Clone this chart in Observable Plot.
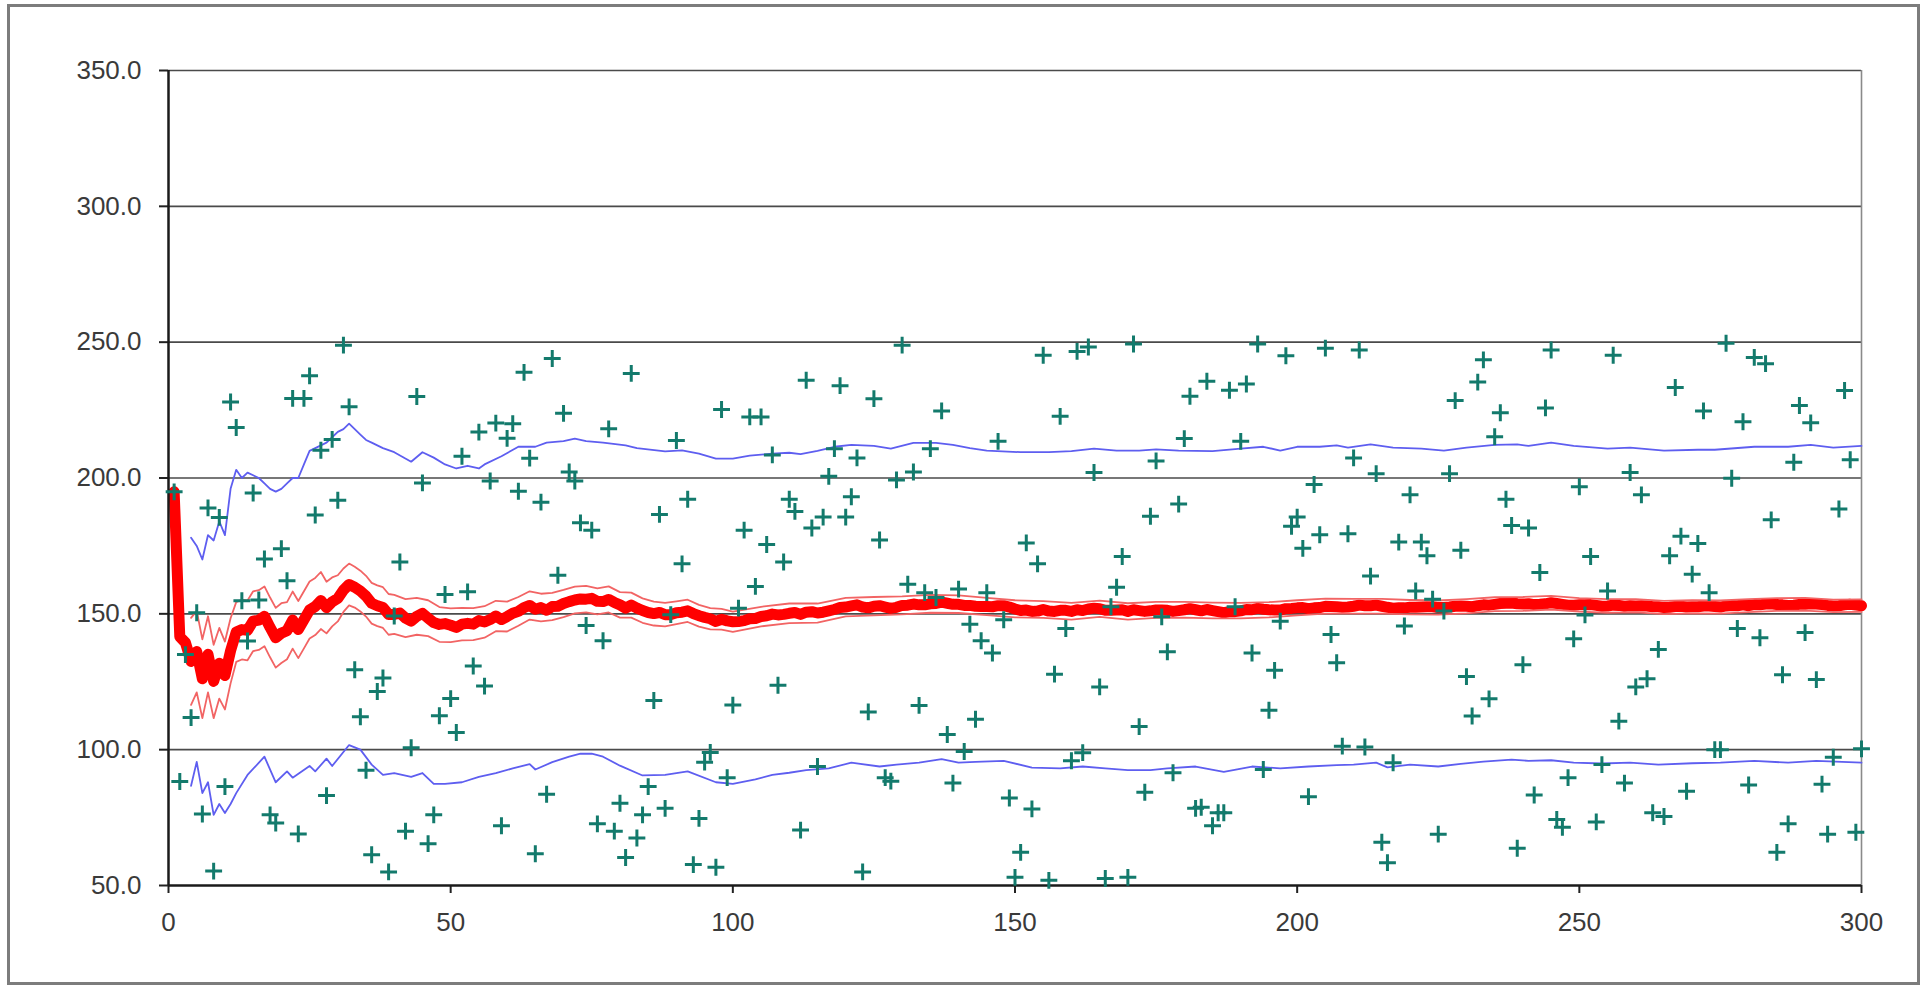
<!DOCTYPE html>
<html>
<head>
<meta charset="utf-8">
<script src="https://cdn.jsdelivr.net/npm/d3@7"></script>
<script src="https://cdn.jsdelivr.net/npm/@observablehq/plot@0.6"></script>
<style>
  html, body { margin: 0; padding: 0; background: #ffffff; overflow: hidden; }
  #wrap { position: relative; width: 1923px; height: 986px; }
  #border { position: absolute; left: 7px; top: 4px; width: 1913px; height: 981px; box-sizing: border-box; border: 3px solid #7c7c7c; pointer-events: none; }
  #chart { position: absolute; left: 0; top: 0; }
</style>
</head>
<body>
<div id="wrap"><div id="chart"></div><div id="border"></div></div>
<script>
// ---------- data ----------
const xTicks = [0, 50, 100, 150, 200, 250, 300];
const yTicks = [50, 100, 150, 200, 250, 300, 350];

// scatter values, one per trial 1..300
const sampleValues = [194.9,88.3,135,111.8,150.4,76.3,189,55.3,185.5,86.4,
228,218.6,154.8,140,194.5,155.1,170.2,76,73,174,
162.2,229.3,69,229.3,237.6,186.4,210.2,83.1,214.2,191.8,
248.9,226.2,129.4,112.1,92.4,61.3,121.4,126.4,55,149.2,
169.1,70,100.7,230,198.2,65.4,76,112.5,157.1,118.8,
106.3,208,158.1,130.8,216.9,123.4,198.9,220.2,72,214.6,
220,195.1,238.9,207.3,61.7,191.1,83.6,244,164.2,223.8,
202.2,198.9,183.5,145.7,180.8,72.7,140.1,218.1,70,80.3,
60.3,238.5,67.5,76,86.4,118.1,186.6,78.4,149.7,213.8,
168.4,192.2,57.7,74.7,95.4,99,56.7,225.2,89.7,116.4,
152.1,180.8,222.5,160.1,222.5,175.5,208.5,123.7,169.1,192.2,
187.7,70.4,236,181.6,93.8,185.6,200.6,210.8,234,185.6,
193.1,207.4,55,113.9,229.2,177.2,89.7,88.4,199.3,248.9,
160.9,202.2,116.3,157.8,210.8,156,224.7,105.6,87.7,159.1,
99.3,146.2,111.2,140.1,157.8,135.6,213.5,147.8,82.2,53,
62.2,176.1,78.2,168.4,245.2,51.9,127.8,222.7,144.6,95.9,
246.6,98.9,248.2,202,123.1,52.6,152.6,159.8,171.1,53,
249.3,108.5,84.3,185.9,206.3,148.9,136,91.5,190.4,214.5,
230.1,78.4,78.8,235.6,72,76.8,76.8,232.3,152.6,213.5,
234.6,135.6,249.3,92.7,114.5,129.2,147.3,245,182.2,185.6,
174.1,82.7,197.6,179.1,247.8,142.4,132,101.3,179.5,207.4,
247.1,101,163.9,201.6,65.9,58.4,95.2,176.4,145.5,193.8,
158.4,176.4,171.4,155.4,68.9,151,201.6,228.5,173.4,126.9,
112.4,235.3,243.5,118.7,215.2,224,192.2,182.5,63.7,131.3,
181.6,83.3,165.2,225.8,247.1,74.3,71.4,89.7,140.8,196.8,
149.6,171.1,73.4,94.5,158.4,245.2,110.5,87.7,202,123.1,
193.8,126.1,76.8,136.9,75.4,171.4,233.3,178.6,84.7,164.6,
175.9,224.7,157.8,100,100,249.6,199.9,144.6,220.7,87,
244.4,141.2,242.1,184.6,62.2,127.6,72.7,205.8,226.7,143.1,
220.3,125.8,87.3,68.9,97.2,188.6,232.2,206.7,69.6,100.3];

// thick red line (running level), one per trial 1..300
const meanValues = [194.9,141.6,139.4,132.5,136.1,126.1,135.1,125.1,131.8,127.3,
136.4,143.3,144.2,143.9,147.3,147.7,149.1,145.0,141.2,142.9,
143.8,147.7,144.2,147.8,151.4,152.7,154.9,152.3,154.4,155.7,
158.7,160.8,159.8,158.4,156.5,153.9,153.0,152.3,149.8,149.8,
150.3,148.4,147.3,149.1,150.2,148.4,146.8,146.1,146.4,145.8,
145.0,146.2,146.5,146.2,147.5,147.0,147.9,149.2,147.9,149.0,
150.2,150.9,152.3,153.1,151.7,152.3,151.3,152.7,152.8,153.8,
154.5,155.1,155.5,155.4,155.7,154.6,154.5,155.3,154.2,153.3,
152.1,153.2,152.1,151.2,150.5,150.1,150.5,149.7,149.7,150.4,
150.6,151.1,150.1,149.3,148.7,148.2,147.2,148.0,147.4,147.1,
147.2,147.5,148.2,148.3,149.0,149.3,149.9,149.6,149.8,150.2,
150.5,149.8,150.6,150.8,150.3,150.6,151.1,151.6,152.3,152.5,
152.9,153.3,152.5,152.2,152.8,153.0,152.5,152.0,152.4,153.1,
153.2,153.6,153.3,153.3,153.7,153.8,154.3,153.9,153.5,153.5,
153.1,153.1,152.8,152.7,152.7,152.6,153.0,153.0,152.5,151.8,
151.2,151.4,150.9,151.0,151.6,151.0,150.9,151.3,151.3,150.9,
151.5,151.2,151.8,152.1,151.9,151.3,151.3,151.4,151.5,150.9,
151.5,151.2,150.9,151.1,151.4,151.4,151.3,150.9,151.2,151.5,
151.9,151.5,151.1,151.6,151.2,150.8,150.4,150.8,150.8,151.1,
151.6,151.5,152.0,151.7,151.5,151.4,151.4,151.9,152.0,152.2,
152.3,151.9,152.2,152.3,152.8,152.7,152.6,152.4,152.5,152.8,
153.2,153.0,153.0,153.2,152.8,152.4,152.1,152.2,152.2,152.4,
152.4,152.5,152.6,152.6,152.3,152.3,152.5,152.8,152.9,152.8,
152.6,153.0,153.3,153.2,153.5,153.8,153.9,154.0,153.7,153.6,
153.7,153.4,153.5,153.7,154.1,153.8,153.5,153.2,153.2,153.3,
153.3,153.4,153.1,152.8,152.9,153.2,153.1,152.8,153.0,152.9,
153.0,152.9,152.6,152.6,152.3,152.4,152.7,152.8,152.5,152.6,
152.6,152.9,152.9,152.7,152.5,152.9,153.1,153.0,153.3,153.0,
153.4,153.3,153.6,153.7,153.4,153.3,153.1,153.2,153.5,153.5,
153.7,153.6,153.4,153.1,152.9,153.0,153.3,153.5,153.2,153.0];

// thin red band (read at these trials)
const bandX = [4,5,6,7,8,9,10,11,12,13,14,15,16,17,18,19,20,21,22,23,24,25,26,27,28,29,30,
31,32,33,34,35,36,37,38,39,40,42,44,46,48,50,52,54,56,58,60,62,64,66,68,70,72,74,76,78,80,
82,84,86,88,90,92,94,96,98,100,105,110,115,120,125,130,135,140,145,150,155,160,165,170,175,
180,185,190,195,200,205,210,215,220,225,230,235,240,245,250,255,260,265,270,275,280,285,290,295,300];
const bandUpper = [148.5,151.1,140.6,149.1,138.6,144.8,139.8,148.4,154.3,155.2,154.9,158.3,158.7,160.1,156.0,152.2,153.9,154.3,158.2,154.7,158.3,161.9,163.2,165.4,161.8,163.4,164.2,
166.7,168.5,167.3,165.9,164.0,161.4,160.5,159.8,157.3,157.0,155.4,155.9,155.0,152.5,152.0,152.2,152.1,152.8,154.8,154.5,156.2,158.3,157.4,157.7,158.8,160.0,160.3,159.4,160.1,158.0,
157.8,155.7,154.5,154.0,154.6,155.2,153.3,152.1,151.8,150.8,152.6,153.8,153.8,155.9,156.2,156.4,157.0,156.8,155.9,155.0,154.7,154.0,154.9,153.9,154.4,
154.4,154.1,154.0,154.3,155.0,155.6,155.5,155.5,155.1,154.9,155.4,156.1,156.2,156.6,155.8,155.4,155.4,154.8,155.0,154.9,155.4,155.8,155.9,155.2,155.3];
const bandLower = [116.5,121.1,111.6,121.1,111.6,118.8,114.8,124.4,132.3,133.2,132.9,136.3,136.7,138.1,134.0,130.2,131.9,133.3,137.2,133.7,137.3,140.9,142.2,144.4,142.8,145.4,147.2,
150.7,153.1,152.3,150.9,149.0,146.4,145.5,144.8,142.3,142.6,141.4,142.3,141.8,139.7,139.6,140.2,140.3,141.2,143.6,143.5,145.6,147.9,147.2,147.7,148.8,150.2,150.5,149.8,150.5,148.6,
148.6,146.7,145.7,145.4,146.2,147.0,145.3,144.3,144.2,143.4,145.4,146.6,146.8,149.1,149.4,149.8,150.4,150.3,149.5,148.7,148.5,147.9,148.9,147.9,148.5,
148.6,148.3,148.3,148.7,149.4,150.1,150.1,150.1,149.8,149.7,150.2,151.0,151.1,151.6,150.8,150.4,150.5,149.9,150.2,150.1,150.6,151.1,151.2,150.6,150.7];

// blue upper / lower lines (read at these trials)
const blueUpX = [4,5,6,7,8,9,10,11,12,13,14,15,16,17,18,19,20,21,22,23,24,25,26,27,28,29,30,31,32,33,34,35,36,38,40,43,45,47,49,51,53,55,56,59,62,65,67,70,72,74,77,81,83,88,91,94,97,100,103,107,110,112,115,118,121,125,128,132,136,139,142,145,151,156,160,164,168,172,175,179,185,190,194,197,200,204,207,209,213,217,222,226,230,235,239,241,245,249,255,259,265,271,274,281,287,291,295,300];
const blueUpY = [178,175,170,179,177,184,179,196,203,200,202,201,200,198,196,195,196,198,200,200,205,210,211,212,213,215,217,218,220,218,216,214,213,211,209.5,206,209.5,207.5,205,203.5,204.5,203.5,205,208,211.5,211.5,213,213.6,214.5,213.6,213,212,211,209.8,210.2,209,207.1,207.1,208.2,209,209.3,208.8,210,211.5,212.2,211.8,210.8,212.9,212.9,212.2,211,210.1,209.5,209.5,209.9,210.8,210.1,210.1,210.5,210.1,209.9,210.8,211.5,210.1,211.5,211.5,212,211.2,212.4,211.2,210.8,210.1,211.2,212.2,212.4,211.8,213,211.8,210.8,211.2,210.1,210.4,210.4,211.5,211.5,212.2,211.2,211.8];
const blueLoX = [4,5,6,7,8,9,10,11,12,14,17,19,21,22,25,26,28,29,32,34,36,38,40,43,45,47,49,52,55,58,61,64,65,68,71,73,75,77,80,84,88,92,97,100,104,107,110,113,117,121,126,129,133,137,140,143,148,153,158,162,166,170,174,177,182,187,192,197,202,207,210,214,216,220,225,229,233,238,241,245,249,254,259,264,270,275,281,287,292,300];
const blueLoY = [86.7,95.5,84,88,76,80,76.7,80,84,90.7,97.4,88,92,89.7,94,92,96.7,94,101.7,100,94.5,90.7,91.4,90,91.4,87.4,87.4,88,90,91.4,93.1,94.7,92.7,95.4,97.4,98.5,98.5,97.4,94.1,90.5,90.7,92,88,87.4,89.1,90.7,91.5,92.5,93.1,95.2,93.8,94.5,95.2,96.5,95.2,95.5,95.9,93.4,93.1,93.8,93.1,92.5,92.5,93.1,93.8,91.8,93.8,93.1,93.8,94.3,94.5,95.2,93.5,94.5,93.8,94.8,95.6,96.3,95.9,96.1,95.2,94.9,95.2,94.5,95,95.2,95.9,95.2,95.9,95.2];

// ---------- tables for the marks ----------
const points = sampleValues.map((v, i) => ({trial: i + 1, value: v}));
const meanLine = meanValues.map((v, i) => ({trial: i + 1, value: v}));
const upperBand = bandX.map((t, i) => ({trial: t, value: bandUpper[i]}));
const lowerBand = bandX.map((t, i) => ({trial: t, value: bandLower[i]}));
const blueUpper = blueUpX.map((t, i) => ({trial: t, value: blueUpY[i]}));
const blueLower = blueLoX.map((t, i) => ({trial: t, value: blueLoY[i]}));

const fmt = d => d.toFixed(1);

const chart = Plot.plot({
  width: 1923,
  height: 986,
  marginLeft: 168,
  marginRight: 62,
  marginTop: 70,
  marginBottom: 101,
  x: {domain: [0, 300], label: null},
  y: {domain: [50, 350], label: null},
  style: {fontFamily: "'Liberation Sans', Arial, sans-serif", fontSize: "26px", color: "#3a3a3a", background: "transparent"},
  marks: [
    Plot.ruleY(yTicks.filter(d => d > 50), {stroke: "#4a4a4a", strokeWidth: 1.6}),
    Plot.ruleX([300], {stroke: "#8a8a8a", strokeWidth: 1.6}),
    Plot.axisY({ticks: yTicks, tickFormat: fmt, tickSize: 9, tickPadding: 18, stroke: "#222", strokeWidth: 2, fontSize: 26, label: null}),
    Plot.axisX({ticks: xTicks, tickSize: 8, tickPadding: 19, stroke: "#222", strokeWidth: 2, fontSize: 26, label: null}),
    Plot.line(meanLine, {x: "trial", y: "value", stroke: "#ff0000", strokeWidth: 11, strokeLinejoin: "round"}),
    Plot.line(upperBand, {x: "trial", y: "value", stroke: "#f26464", strokeWidth: 1.8}),
    Plot.line(lowerBand, {x: "trial", y: "value", stroke: "#f26464", strokeWidth: 1.8}),
    Plot.line(blueUpper, {x: "trial", y: "value", stroke: "#5e5ef0", strokeWidth: 1.8}),
    Plot.line(blueLower, {x: "trial", y: "value", stroke: "#5e5ef0", strokeWidth: 1.8}),
    Plot.ruleX([0], {y1: 50, y2: 350, stroke: "#1a1a1a", strokeWidth: 2.5}),
    Plot.ruleY([50], {x1: 0, x2: 300, stroke: "#1a1a1a", strokeWidth: 2.5}),
    Plot.dot(points, {x: "trial", y: "value", symbol: "plus", r: 5.5, stroke: "#137a6c", strokeWidth: 3})
  ]
});
document.getElementById("chart").appendChild(chart);
</script>
</body>
</html>
